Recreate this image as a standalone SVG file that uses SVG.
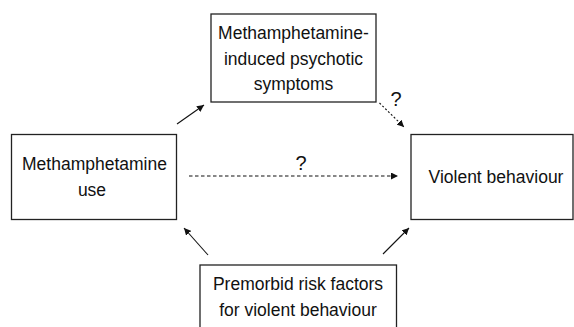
<svg xmlns="http://www.w3.org/2000/svg" width="574" height="327" viewBox="0 0 574 327">
<style>
.box{fill:#fff;stroke:#222;stroke-width:1.3}
.t{font-family:"Liberation Sans",Arial,sans-serif;font-size:17.5px;fill:#111;text-anchor:middle}
.q{font-family:"Liberation Sans",Arial,sans-serif;font-size:20px;fill:#111;text-anchor:middle}
.c{stroke:#111;stroke-width:1.1;fill:none}
.dash{stroke-dasharray:3.5 2.5}
.dot{stroke-dasharray:2 2}
</style>
<defs>
<marker id="ah" markerUnits="userSpaceOnUse" markerWidth="8" markerHeight="7" refX="7" refY="3.5" orient="auto">
<path d="M0,0 L7,3.5 L0,7 Z" fill="#111"/>
</marker>
</defs>
<rect width="574" height="327" fill="#fff"/>
<g id="node-psychotic">
<rect class="box" x="211" y="14" width="165" height="88"/>
<text class="t" x="293.5" y="38.7">Methamphetamine-</text>
<text class="t" x="293.5" y="64.5">induced psychotic</text>
<text class="t" x="293.5" y="90">symptoms</text>
</g>
<g id="node-use">
<rect class="box" x="11.5" y="134.5" width="165" height="85"/>
<text class="t" x="94.5" y="169.7">Methamphetamine</text>
<text class="t" x="92" y="196.3">use</text>
</g>
<g id="node-violent">
<rect class="box" x="411" y="134.5" width="162" height="85"/>
<text class="t" x="496" y="183">Violent behaviour</text>
</g>
<g id="node-premorbid">
<rect class="box" x="200" y="265" width="196.5" height="80"/>
<text class="t" x="298" y="290">Premorbid risk factors</text>
<text class="t" x="298" y="315.7">for violent behaviour</text>
</g>
<g id="connectors">
<line class="c" x1="177" y1="124" x2="204" y2="105" marker-end="url(#ah)"/>
<line class="c dot" x1="379.5" y1="103" x2="404" y2="127" marker-end="url(#ah)"/>
<line class="c dash" x1="189" y1="176" x2="398" y2="176" marker-end="url(#ah)"/>
<line class="c" x1="208" y1="255" x2="184" y2="228" marker-end="url(#ah)"/>
<line class="c" x1="383" y1="254" x2="409" y2="228" marker-end="url(#ah)"/>
<text class="q" x="301" y="170">?</text>
<text class="q" x="396" y="106">?</text>
</g>
</svg>
